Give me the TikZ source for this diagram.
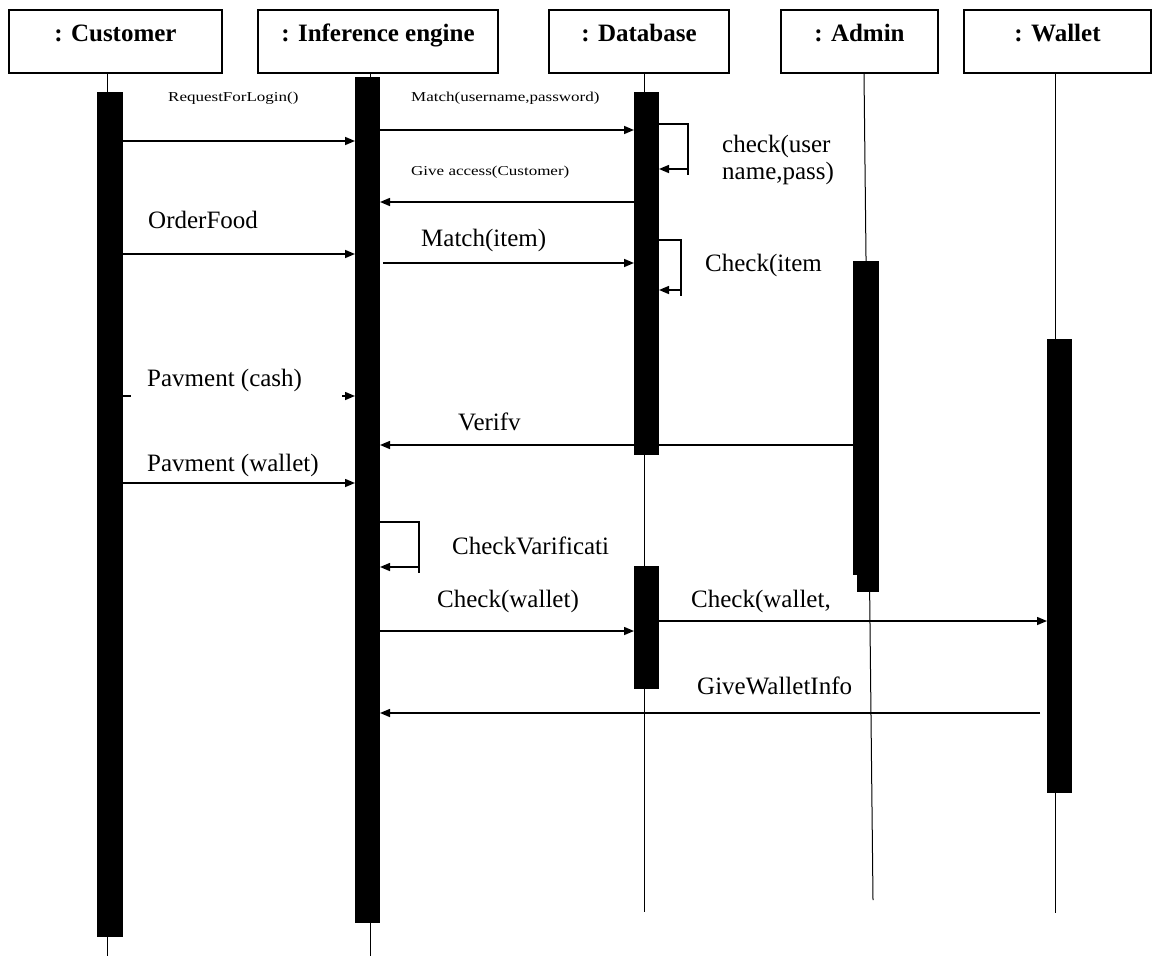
\documentclass[tikz,border=0pt]{standalone}
\usepackage{fontspec}
\setmainfont{Liberation Serif}
\usepackage{graphicx}
\usetikzlibrary{arrows.meta,calc}
% small, vertically squeezed message names
\newcommand\squeezed[1]{\scalebox{1}[0.8]{#1}}
\begin{document}
\begin{tikzpicture}[x=1pt,y=-1pt,
  hdr/.style={draw, line width=1.5pt, minimum height=63pt, inner sep=0pt,
    font=\bfseries\fontsize{25}{30}\selectfont, text height=18pt, text depth=19pt},
  bar/.style={fill=black, draw=none, inner sep=0pt, outer sep=0pt},
  life/.style={line width=1pt},
  msg/.style={line width=1.5pt, -{Triangle[length=10pt,width=8pt]}},
  loopline/.style={line width=1.5pt},
  lbl/.style={font=\fontsize{25}{27}\selectfont, inner sep=0pt, anchor=west},
  sml/.style={font=\fontsize{17}{20}\selectfont, inner sep=0pt, anchor=west}]
\useasboundingbox (0,0) rectangle (1158,956);

% object headers
\node[hdr, minimum width=213pt] (hc) at (115.5,41.5) {: Customer};
\node[hdr, minimum width=240pt] (hi) at (378,41.5) {: Inference engine};
\node[hdr, minimum width=180pt] (hd) at (639,41.5) {: Database};
\node[hdr, minimum width=157pt] (ha) at (859.5,41.5) {: Admin};
\node[hdr, minimum width=187pt] (hw) at (1057.5,41.5) {: Wallet};

% lifelines
\coordinate (lc) at (107,956);
\coordinate (li) at (370,956);
\coordinate (ld) at (644,912);
\coordinate (lat) at (864,0);
\coordinate (la) at (873,900);
\coordinate (lw) at (1055,913);
\draw[life] (hc.south -| lc) -- (lc);
\draw[life] (hi.south -| li) -- (li);
\draw[life] (hd.south -| ld) -- (ld);
\draw[life] (ha.south -| lat) -- (la);
\draw[life] (hw.south -| lw) -- (lw);

% activation bars
\node[bar, minimum width=26pt, minimum height=845pt] (bc) at (110,514.5) {};
\node[bar, minimum width=25pt, minimum height=846pt] (bi) at (367.5,500) {};
\node[bar, minimum width=25pt, minimum height=363pt] (bd1) at (646.5,273.5) {};
\node[bar, minimum width=25pt, minimum height=123pt] (bd2) at (646.5,627.5) {};
\node[bar, minimum width=26pt, minimum height=314pt] (ba) at (866,418) {};
\node[bar, minimum width=22pt, minimum height=22pt] (ba2) at (868,581) {};
\node[bar, minimum width=25pt, minimum height=454pt] (bw) at (1059.5,566) {};

% login
\node[sml] (t1) at (168,98) {\squeezed{RequestForLogin()}};
\draw[msg] (bc.east |- 0,141) -- (bi.west |- 0,141);
\node[sml] (t2) at (411,98) {\squeezed{Match(username,password)}};
\draw[msg] (bi.east |- 0,130) -- (bd1.west |- 0,130);
\coordinate (r1) at (688,124);
\coordinate (r1b) at (688,175);
\coordinate (r1a) at (688,169);
\draw[loopline] (bd1.east |- r1) -- (r1) -- (r1b);
\draw[msg] (r1a) -- (bd1.east |- r1a);
\node[lbl, align=left] (t3) at (722,160) {check(user\\name,pass)};
\node[sml] (t4) at (411,172) {\squeezed{Give access(Customer)}};
\draw[msg] (bd1.west |- 0,202) -- (bi.east |- 0,202);

% ordering
\node[lbl] (t5) at (148,220) {OrderFood};
\draw[msg] (bc.east |- 0,254) -- (bi.west |- 0,254);
\node[lbl] (t6) at (421,240) {Match(item)};
\draw[msg] ($(bi.east |- 0,263)+(3,0)$) -- (bd1.west |- 0,263);
\coordinate (r2) at (681,240);
\coordinate (r2b) at (681,296);
\coordinate (r2a) at (681,290);
\draw[loopline] (bd1.east |- r2) -- (r2) -- (r2b);
\draw[msg] (r2a) -- (bd1.east |- r2a);
\node[lbl] (t7) at (705,265) {Check(item};

% payment
\node[lbl] (t8) at (147,380) {Pavment (cash)};
\draw[msg, dash pattern=on 8pt off 211pt on 40pt] (bc.east |- 0,396) -- (bi.west |- 0,396);
\node[lbl] (t9) at (458,422) {Verifv};
\draw[msg] (ba.west |- 0,445) -- (bi.east |- 0,445);
\node[lbl] (t10) at (147,465) {Pavment (wallet)};
\draw[msg] (bc.east |- 0,483) -- (bi.west |- 0,483);
\coordinate (r3) at (419,522);
\coordinate (r3b) at (419,573);
\coordinate (r3a) at (419,567);
\draw[loopline] (bi.east |- r3) -- (r3) -- (r3b);
\draw[msg] (r3a) -- (bi.east |- r3a);
\node[lbl] (t11) at (452,546) {CheckVarificati};

% wallet
\node[lbl] (t12) at (437,601) {Check(wallet)};
\draw[msg] (bi.east |- 0,631) -- (bd2.west |- 0,631);
\node[lbl] (t13) at (691,601) {Check(wallet,};
\draw[msg] (bd2.east |- 0,621) -- (bw.west |- 0,621);
\node[lbl] (t14) at (697,686) {GiveWalletInfo};
\draw[msg] ($(bw.west |- 0,713)+(-7,0)$) -- (bi.east |- 0,713);
\end{tikzpicture}
\end{document}
